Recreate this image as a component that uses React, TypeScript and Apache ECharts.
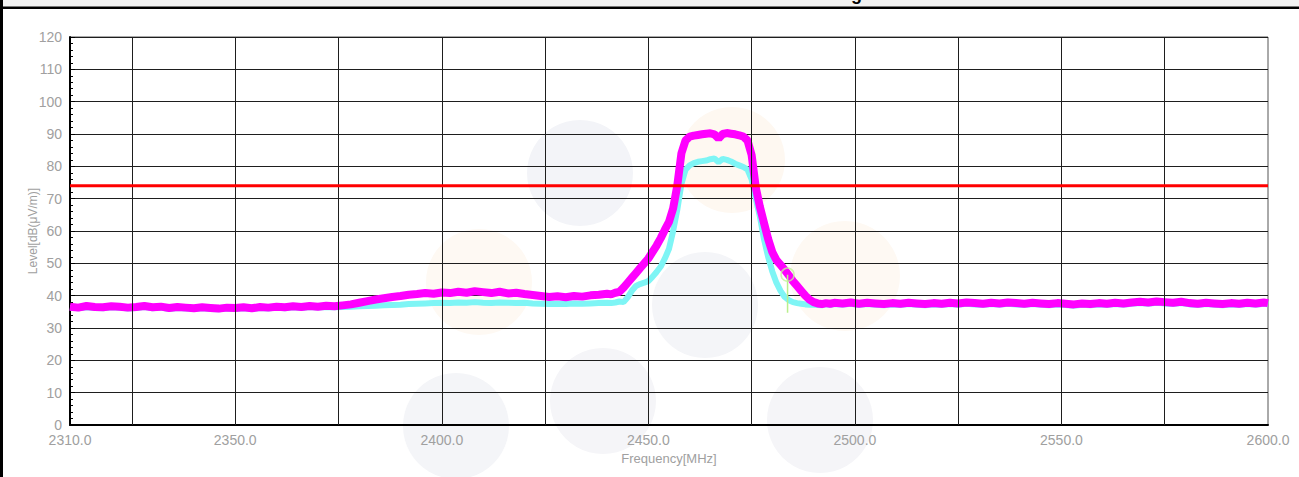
import React, { useEffect, useRef } from 'react';
import * as echarts from 'echarts';

const freqs = [
  2310, 2312, 2314, 2316, 2318, 2320, 2322, 2324, 2326, 2328, 2330, 2332, 2334, 2336, 2338, 2340,
  2342, 2344, 2346, 2348, 2350, 2352, 2354, 2356, 2358, 2360, 2362, 2364, 2366, 2368, 2370, 2372,
  2374, 2376, 2378, 2380, 2382, 2384, 2386, 2388, 2390, 2392, 2394, 2396, 2398, 2400, 2402, 2404,
  2406, 2408, 2410, 2412, 2414, 2416, 2418, 2420, 2422, 2424, 2426, 2428, 2430, 2432, 2434, 2436,
  2438, 2440, 2441, 2442, 2443, 2444, 2445, 2446, 2447, 2448, 2449, 2450, 2451, 2452, 2453, 2454,
  2455, 2456, 2457, 2458, 2459, 2460, 2461, 2462, 2463, 2464, 2465, 2466, 2467, 2468, 2469, 2470,
  2471, 2472, 2473, 2474, 2475, 2476, 2477, 2478, 2479, 2480, 2481, 2482, 2483, 2484, 2485, 2486,
  2487, 2488, 2489, 2490, 2491, 2492, 2493, 2494, 2495, 2497, 2499, 2501, 2503, 2505, 2507, 2509,
  2511, 2513, 2515, 2517, 2519, 2521, 2523, 2525, 2527, 2529, 2531, 2533, 2535, 2537, 2539, 2541,
  2543, 2545, 2547, 2549, 2551, 2553, 2555, 2557, 2559, 2561, 2563, 2565, 2567, 2569, 2571, 2573,
  2575, 2577, 2579, 2581, 2583, 2585, 2587, 2589, 2591, 2593, 2595, 2597, 2599, 2600,
];

// Peak trace (magenta)
const peakLevels = [
  36.6, 36.3, 36.8, 36.5, 36.4, 36.7, 36.6, 36.3, 36.5, 36.8, 36.4, 36.6, 36.2, 36.5, 36.3, 36.1,
  36.4, 36.2, 36.0, 36.3, 36.2, 36.4, 36.1, 36.5, 36.3, 36.6, 36.4, 36.7, 36.5, 36.8, 36.6, 36.9,
  36.7, 37.0, 37.3, 37.8, 38.3, 38.8, 39.2, 39.6, 39.9, 40.3, 40.5, 40.8, 40.6, 41.0, 40.8, 41.2,
  40.9, 41.4, 41.1, 40.8, 41.2, 40.7, 40.9, 40.5, 40.2, 39.9, 39.6, 39.8, 39.5, 39.9, 39.7, 40.1,
  40.3, 40.6, 40.4, 40.9, 41.2, 42.5, 44.0, 45.5, 47.0, 48.5, 50.0, 51.5, 53.5, 55.5, 57.8, 60.4,
  62.8, 67.0, 74.0, 84.0, 88.0, 89.2, 89.5, 89.7, 89.9, 90.1, 90.2, 89.9, 88.6, 90.0, 90.3, 90.1,
  89.9, 89.6, 89.2, 88.0, 83.5, 73.5, 67.5, 62.5, 57.5, 53.5, 51.0, 49.5, 48.0, 46.3, 44.5, 43.0,
  41.5, 40.0, 38.8, 38.0, 37.6, 37.4, 37.7, 37.5, 37.8, 37.6, 37.9, 37.5, 37.8, 37.6, 37.4, 37.7,
  37.5, 37.8, 37.6, 37.4, 37.7, 37.5, 37.8, 37.6, 37.9, 37.7, 37.5, 37.8, 37.6, 37.9, 37.7, 37.5,
  37.8, 37.6, 37.4, 37.7, 37.5, 37.3, 37.6, 37.4, 37.7, 37.5, 37.8, 37.6, 37.9, 38.1, 37.9, 38.2,
  38.0, 37.8, 38.1, 37.7, 37.5, 37.8, 37.6, 37.4, 37.7, 37.5, 37.8, 37.6, 37.9, 37.7,
];

// Average trace (cyan)
const avgLevels = [
  36.3, 36.1, 36.4, 36.2, 36.1, 36.4, 36.3, 36.0, 36.2, 36.5, 36.1, 36.3, 35.9, 36.2, 36.0, 35.9,
  36.1, 35.9, 35.8, 36.0, 35.9, 36.1, 35.9, 36.2, 36.0, 36.3, 36.1, 36.4, 36.2, 36.5, 36.3, 36.5,
  36.4, 36.5, 36.6, 36.7, 36.8, 36.9, 37.0, 37.1, 37.2, 37.4, 37.5, 37.6, 37.7, 37.8, 37.7, 37.9,
  37.8, 38.0, 37.8, 37.7, 37.9, 37.8, 37.7, 37.8, 37.6, 37.5, 37.4, 37.5, 37.4, 37.6, 37.5, 37.6,
  37.7, 37.8, 37.7, 37.9, 38.2, 38.0, 39.5, 41.5, 43.0, 43.6, 44.0, 44.5, 45.8, 47.3, 49.0, 51.5,
  54.5, 60.0, 66.5, 74.5, 79.0, 80.3, 81.0, 81.4, 81.6, 81.8, 82.2, 82.4, 81.3, 82.3, 82.0, 81.5,
  80.8, 80.3, 79.8, 79.0, 76.0, 70.0, 64.5, 57.4, 52.0, 47.5, 44.0, 41.5, 39.6, 38.6, 38.0, 37.7,
  37.5, 37.3, 37.2, 37.2, 37.1, 37.0, 37.3, 37.1, 37.4, 37.2, 37.5, 37.1, 37.4, 37.2, 37.0, 37.3,
  37.1, 37.4, 37.2, 37.0, 37.3, 37.1, 37.4, 37.2, 37.5, 37.3, 37.1, 37.4, 37.2, 37.5, 37.3, 37.1,
  37.4, 37.2, 37.0, 37.3, 37.1, 36.9, 37.2, 37.0, 37.3, 37.1, 37.4, 37.2, 37.5, 37.7, 37.5, 37.8,
  37.6, 37.4, 37.7, 37.3, 37.1, 37.4, 37.2, 37.0, 37.3, 37.1, 37.4, 37.2, 37.5, 37.3,
];

const limitLevel = 74;
const xRange = [2310, 2600];
const xLabelValues = [2310, 2350, 2400, 2450, 2500, 2550, 2600];
const xGridLines = [2325, 2350, 2375, 2400, 2425, 2450, 2475, 2500, 2525, 2550, 2575];
const markerFreq = 2483.7;
const markerLevel = 46.5;
const markerFoot = 34.7;

const labelColor = '#a0a0a0';
const fontFamily = '"Liberation Sans", Arial, sans-serif';

export default function App() {
  const ref = useRef<HTMLDivElement>(null);

  useEffect(() => {
    const chart = echarts.init(ref.current!, null, { renderer: 'svg' });
    const circle = (cx: number, cy: number, r: number, fill: string) => ({
      type: 'circle',
      z: -100,
      silent: true,
      shape: { cx, cy, r },
      style: { fill },
    });
    chart.setOption({
      animation: false,
      backgroundColor: '#ffffff',
      graphic: [
        circle(580, 173, 53, '#f3f4f8'),
        circle(705, 305, 53, '#f4f5f8'),
        circle(603, 401, 53, '#f5f5f8'),
        circle(456, 426, 53, '#f4f5f8'),
        circle(820, 420, 53, '#f5f5f8'),
        circle(732, 160, 53, '#fef8f1'),
        circle(845, 276, 55, '#fef9f3'),
        circle(479, 282, 53, '#fef9f3'),
        {
          type: 'rect',
          z: 100,
          silent: true,
          shape: { x: 0, y: 0, width: 1299, height: 7 },
          style: { fill: '#f2f2f2' },
        },
        {
          type: 'rect',
          z: 101,
          silent: true,
          shape: { x: 0, y: 6.5, width: 1299, height: 2.5 },
          style: { fill: '#000000' },
        },
        {
          type: 'rect',
          z: 101,
          silent: true,
          shape: { x: 0, y: 0, width: 3, height: 477 },
          style: { fill: '#000000' },
        },
        {
          type: 'text',
          z: 102,
          silent: true,
          x: 851,
          y: -15,
          style: {
            text: 'g',
            font: 'bold 18px "Liberation Sans", Arial, sans-serif',
            fill: '#000000',
            verticalAlign: 'top',
          },
        },
      ],
      grid: {
        left: 70,
        right: 31,
        top: 37,
        bottom: 52,
        show: true,
        borderColor: '#555555',
        borderWidth: 1,
        backgroundColor: 'transparent',
      },
      xAxis: {
        type: 'value',
        min: xRange[0],
        max: xRange[1],
        interval: 5,
        axisLine: { show: true, lineStyle: { color: '#000000', width: 2 } },
        axisTick: { show: false },
        splitLine: { show: false },
        axisLabel: {
          color: labelColor,
          fontSize: 14,
          fontFamily,
          margin: 8,
          formatter: (v: number) => (xLabelValues.includes(v) ? v.toFixed(1) : ''),
        },
        name: 'Frequency[MHz]',
        nameLocation: 'middle',
        nameGap: 23,
        nameTextStyle: { color: labelColor, fontSize: 13, fontFamily },
      },
      yAxis: {
        type: 'value',
        min: 0,
        max: 120,
        interval: 10,
        axisLine: { show: true, lineStyle: { color: '#000000', width: 2 } },
        axisTick: { show: true, inside: true, length: 5, lineStyle: { color: '#000000' } },
        minorTick: { show: true, splitNumber: 5, length: 3, lineStyle: { color: '#000000' } },
        splitLine: { show: true, lineStyle: { color: '#1e1e1e', width: 1 } },
        axisLabel: { color: labelColor, fontSize: 14, fontFamily, margin: 8 },
        name: 'Level[dB(μV/m)]',
        nameLocation: 'middle',
        nameGap: 31,
        nameMoveOverlap: false,
        nameRotate: 90,
        nameTextStyle: { color: labelColor, fontSize: 12, fontFamily },
      },
      series: [
        {
          name: 'grid',
          type: 'line',
          data: [],
          silent: true,
          z: 1,
          markLine: {
            silent: true,
            symbol: ['none', 'none'],
            label: { show: false },
            lineStyle: { color: '#1e1e1e', width: 1, type: 'solid' },
            emphasis: { disabled: true },
            data: xGridLines.map((v) => ({ xAxis: v })),
          },
        },
        {
          name: 'Average',
          type: 'line',
          showSymbol: false,
          silent: true,
          z: 3,
          data: freqs.map((f, i) => [f, avgLevels[i]]),
          lineStyle: { color: '#7ef5f5', width: 6 },
          itemStyle: { color: '#7ef5f5' },
        },
        {
          name: 'Peak',
          type: 'line',
          showSymbol: false,
          silent: true,
          z: 4,
          data: freqs.map((f, i) => [f, peakLevels[i]]),
          lineStyle: { color: '#ff00ff', width: 8 },
          itemStyle: { color: '#ff00ff' },
        },
        {
          name: 'Limit',
          type: 'line',
          showSymbol: false,
          silent: true,
          z: 5,
          data: xRange.map((f) => [f, limitLevel]),
          lineStyle: { color: '#ff0000', width: 3 },
          itemStyle: { color: '#ff0000' },
        },
        {
          name: 'MarkerStem',
          type: 'line',
          showSymbol: false,
          silent: true,
          z: 6,
          data: [
            [markerFreq, markerLevel],
            [markerFreq, markerFoot],
          ],
          lineStyle: { color: '#b9ef8c', width: 1.5 },
        },
        {
          name: 'Marker',
          type: 'scatter',
          silent: true,
          z: 7,
          symbol: 'circle',
          symbolSize: 13,
          data: [[markerFreq, markerLevel]],
          itemStyle: { color: 'rgba(0,0,0,0)', borderColor: '#c2f39a', borderWidth: 1.5 },
        },
      ],
    });
    return () => chart.dispose();
  }, []);

  return (
    <div
      ref={ref}
      style={{ position: 'fixed', left: 0, top: 0, width: 1299, height: 477, background: '#ffffff' }}
    />
  );
}
